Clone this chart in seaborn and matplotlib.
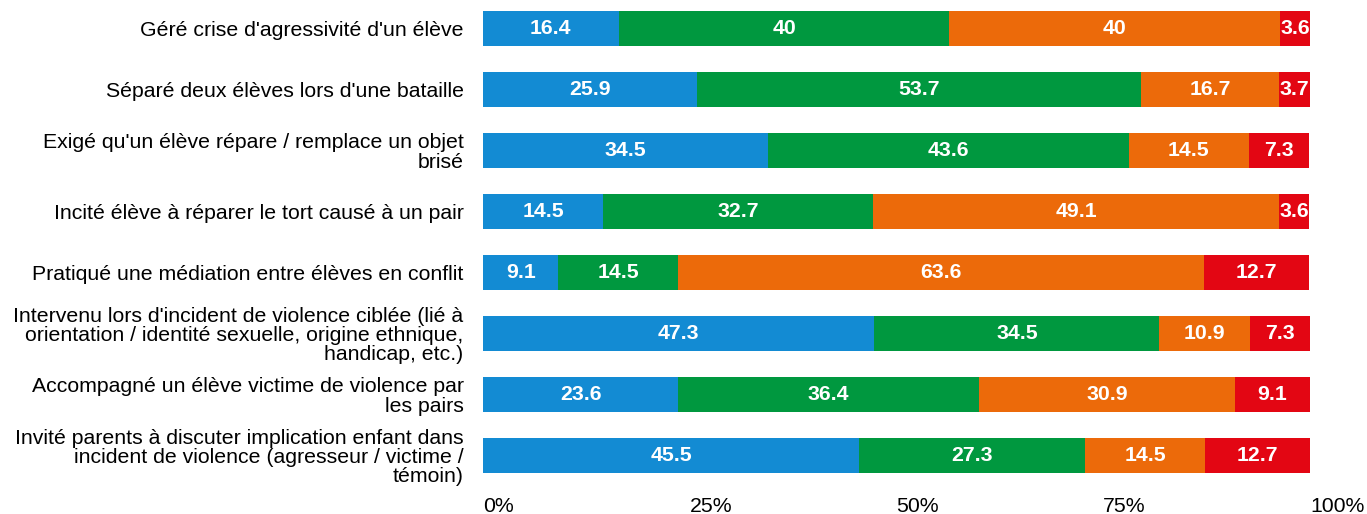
import numpy as np
import pandas as pd
import matplotlib
matplotlib.use("Agg")
import matplotlib.pyplot as plt
import seaborn as sns

categories = [
    "Géré crise d'agressivité d'un élève",
    "Séparé deux élèves lors d'une bataille",
    "Exigé qu'un élève répare / remplace un objet\nbrisé",
    "Incité élève à réparer le tort causé à un pair",
    "Pratiqué une médiation entre élèves en conflit",
    "Intervenu lors d'incident de violence ciblée (lié à\norientation / identité sexuelle, origine ethnique,\nhandicap, etc.)",
    "Accompagné un élève victime de violence par\nles pairs",
    "Invité parents à discuter implication enfant dans\nincident de violence (agresseur / victime /\ntémoin)",
]
serie_1 = [16.4, 25.9, 34.5, 14.5, 9.1, 47.3, 23.6, 45.5]
serie_2 = [40, 53.7, 43.6, 32.7, 14.5, 34.5, 36.4, 27.3]
serie_3 = [40, 16.7, 14.5, 49.1, 63.6, 10.9, 30.9, 14.5]
serie_4 = [3.6, 3.7, 7.3, 3.6, 12.7, 7.3, 9.1, 12.7]
tick_values = [0, 25, 50, 75, 100]
tick_labels = ["0%", "25%", "50%", "75%", "100%"]

colors = ["#138BD3", "#00983F", "#EC6A0A", "#E30613"]

sns.set_theme(style="white")
plt.rcParams["font.family"] = ["Liberation Sans", "DejaVu Sans"]
FS = 15.3

series = [serie_1, serie_2, serie_3, serie_4]
values = np.array(series, dtype=float)
cum = np.cumsum(values, axis=0)
starts = cum - values

W, H = 1367, 514
fig = plt.figure(figsize=(W / 100, H / 100), dpi=100)
ax = fig.add_axes([483 / W, 1 - 486 / H, (1310 - 483) / W, 488 / H])

# Stacked bars: draw cumulative totals from the outermost segment inward
for i in reversed(range(len(series))):
    df = pd.DataFrame({"cat": categories, "val": cum[i]})
    sns.barplot(data=df, x="val", y="cat", orient="h", color=colors[i],
                saturation=1, width=0.574, linewidth=0, ax=ax)

for i, s in enumerate(series):
    for j, v in enumerate(s):
        ax.text(starts[i, j] + v / 2, j, f"{v:g}", ha="center", va="center",
                color="white", fontsize=FS, fontweight="bold")

ax.set_xlim(0, 100)
ax.set_ylim(len(categories) - 0.5, -0.5)
ax.set_xlabel("")
ax.set_ylabel("")
ax.set_xticks(tick_values)
ax.set_xticklabels(tick_labels, ha="left", fontsize=FS)
ax.tick_params(axis="x", length=0, pad=8, colors="black")
ax.tick_params(axis="y", length=0, pad=14, labelsize=FS, colors="black")
for lbl in ax.get_yticklabels():
    lbl.set_linespacing(1.0)
for sp in ax.spines.values():
    sp.set_visible(False)
ax.grid(False)

fig.savefig("out.png", dpi=100)
